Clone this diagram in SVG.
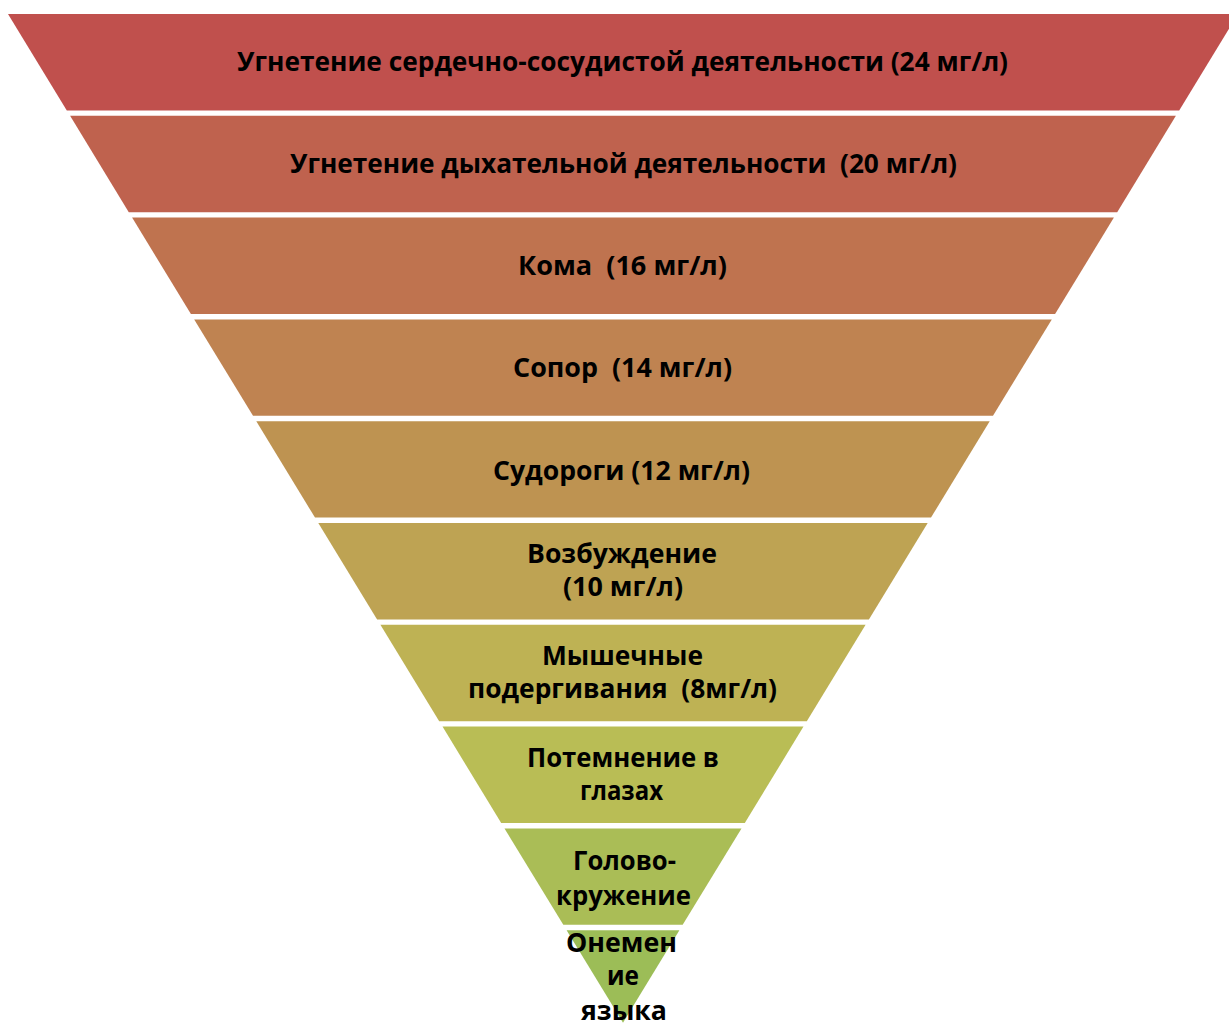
<svg xmlns="http://www.w3.org/2000/svg" width="1229" height="1025" viewBox="0 0 1229 1025">
<style>
text{font-family:"Open Sans","Noto Sans","DejaVu Sans",sans-serif;font-weight:700;font-size:27px;fill:#000;text-anchor:middle;white-space:pre}
.b0{fill:hsl(1.7,47.6%,52.7%)}
.b1{fill:hsl(10.4,47.1%,52.9%)}
.b2{fill:hsl(19.0,46.7%,53.0%)}
.b3{fill:hsl(27.7,46.2%,53.2%)}
.b4{fill:hsl(36.3,45.7%,53.3%)}
.b5{fill:hsl(45.0,45.3%,53.5%)}
.b6{fill:hsl(53.6,44.8%,53.6%)}
.b7{fill:hsl(62.3,44.3%,53.8%)}
.b8{fill:hsl(70.9,43.9%,53.9%)}
.b9{fill:hsl(79.6,43.4%,54.1%)}
</style>
<rect width="1229" height="1025" fill="#fff"/>
<g id="level1"><polygon class="b0" points="8,14 1238,14 1179.2,110.4 66.8,110.4"/>
<text x="622.5" y="71" textLength="771" lengthAdjust="spacingAndGlyphs">Угнетение сердечно-сосудистой деятельности (24 мг/л)</text></g>
<g id="level2"><polygon class="b1" points="70.1,115.8 1175.9,115.8 1117.2,212.2 128.8,212.2"/>
<text x="623.5" y="173" textLength="667" lengthAdjust="spacingAndGlyphs">Угнетение дыхательной деятельности  (20 мг/л)</text></g>
<g id="level3"><polygon class="b2" points="132.1,217.6 1113.9,217.6 1055.1,314 190.9,314"/>
<text x="622.5" y="275" textLength="209" lengthAdjust="spacingAndGlyphs">Кома  (16 мг/л)</text></g>
<g id="level4"><polygon class="b3" points="194.2,319.4 1051.8,319.4 993,415.8 253,415.8"/>
<text x="622.5" y="377" textLength="219" lengthAdjust="spacingAndGlyphs">Сопор  (14 мг/л)</text></g>
<g id="level5"><polygon class="b4" points="256.3,421.2 989.7,421.2 931,517.6 315,517.6"/>
<text x="621.5" y="480" textLength="257" lengthAdjust="spacingAndGlyphs">Судороги (12 мг/л)</text></g>
<g id="level6"><polygon class="b5" points="318.3,523 927.7,523 868.9,619.4 377.1,619.4"/>
<text x="622" y="563" textLength="190" lengthAdjust="spacingAndGlyphs">Возбуждение</text>
<text x="623" y="596" textLength="120" lengthAdjust="spacingAndGlyphs">(10 мг/л)</text></g>
<g id="level7"><polygon class="b6" points="380.4,624.8 865.6,624.8 806.8,721.2 439.2,721.2"/>
<text x="622.5" y="665" textLength="161" lengthAdjust="spacingAndGlyphs">Мышечные</text>
<text x="622.5" y="698" textLength="309" lengthAdjust="spacingAndGlyphs">подергивания  (8мг/л)</text></g>
<g id="level8"><polygon class="b7" points="442.5,726.6 803.5,726.6 744.8,823 501.2,823"/>
<text x="623" y="767" textLength="192" lengthAdjust="spacingAndGlyphs">Потемнение в</text>
<text x="621.5" y="800" textLength="83" lengthAdjust="spacingAndGlyphs">глазах</text></g>
<g id="level9"><polygon class="b8" points="504.5,828.4 741.5,828.4 682.7,924.8 563.3,924.8"/>
<text x="624.5" y="870" textLength="103" lengthAdjust="spacingAndGlyphs">Голово-</text>
<text x="623.5" y="905" textLength="135" lengthAdjust="spacingAndGlyphs">кружение</text></g>
<g id="level10"><polygon class="b9" points="566.6,930.2 679.4,930.2 623,1022.7"/>
<text x="621.5" y="952" textLength="111" lengthAdjust="spacingAndGlyphs">Онемен</text>
<text x="623" y="985" textLength="32" lengthAdjust="spacingAndGlyphs">ие</text>
<text x="624" y="1020" textLength="86" lengthAdjust="spacingAndGlyphs">языка</text></g>
<g id="connectors"/>
</svg>
